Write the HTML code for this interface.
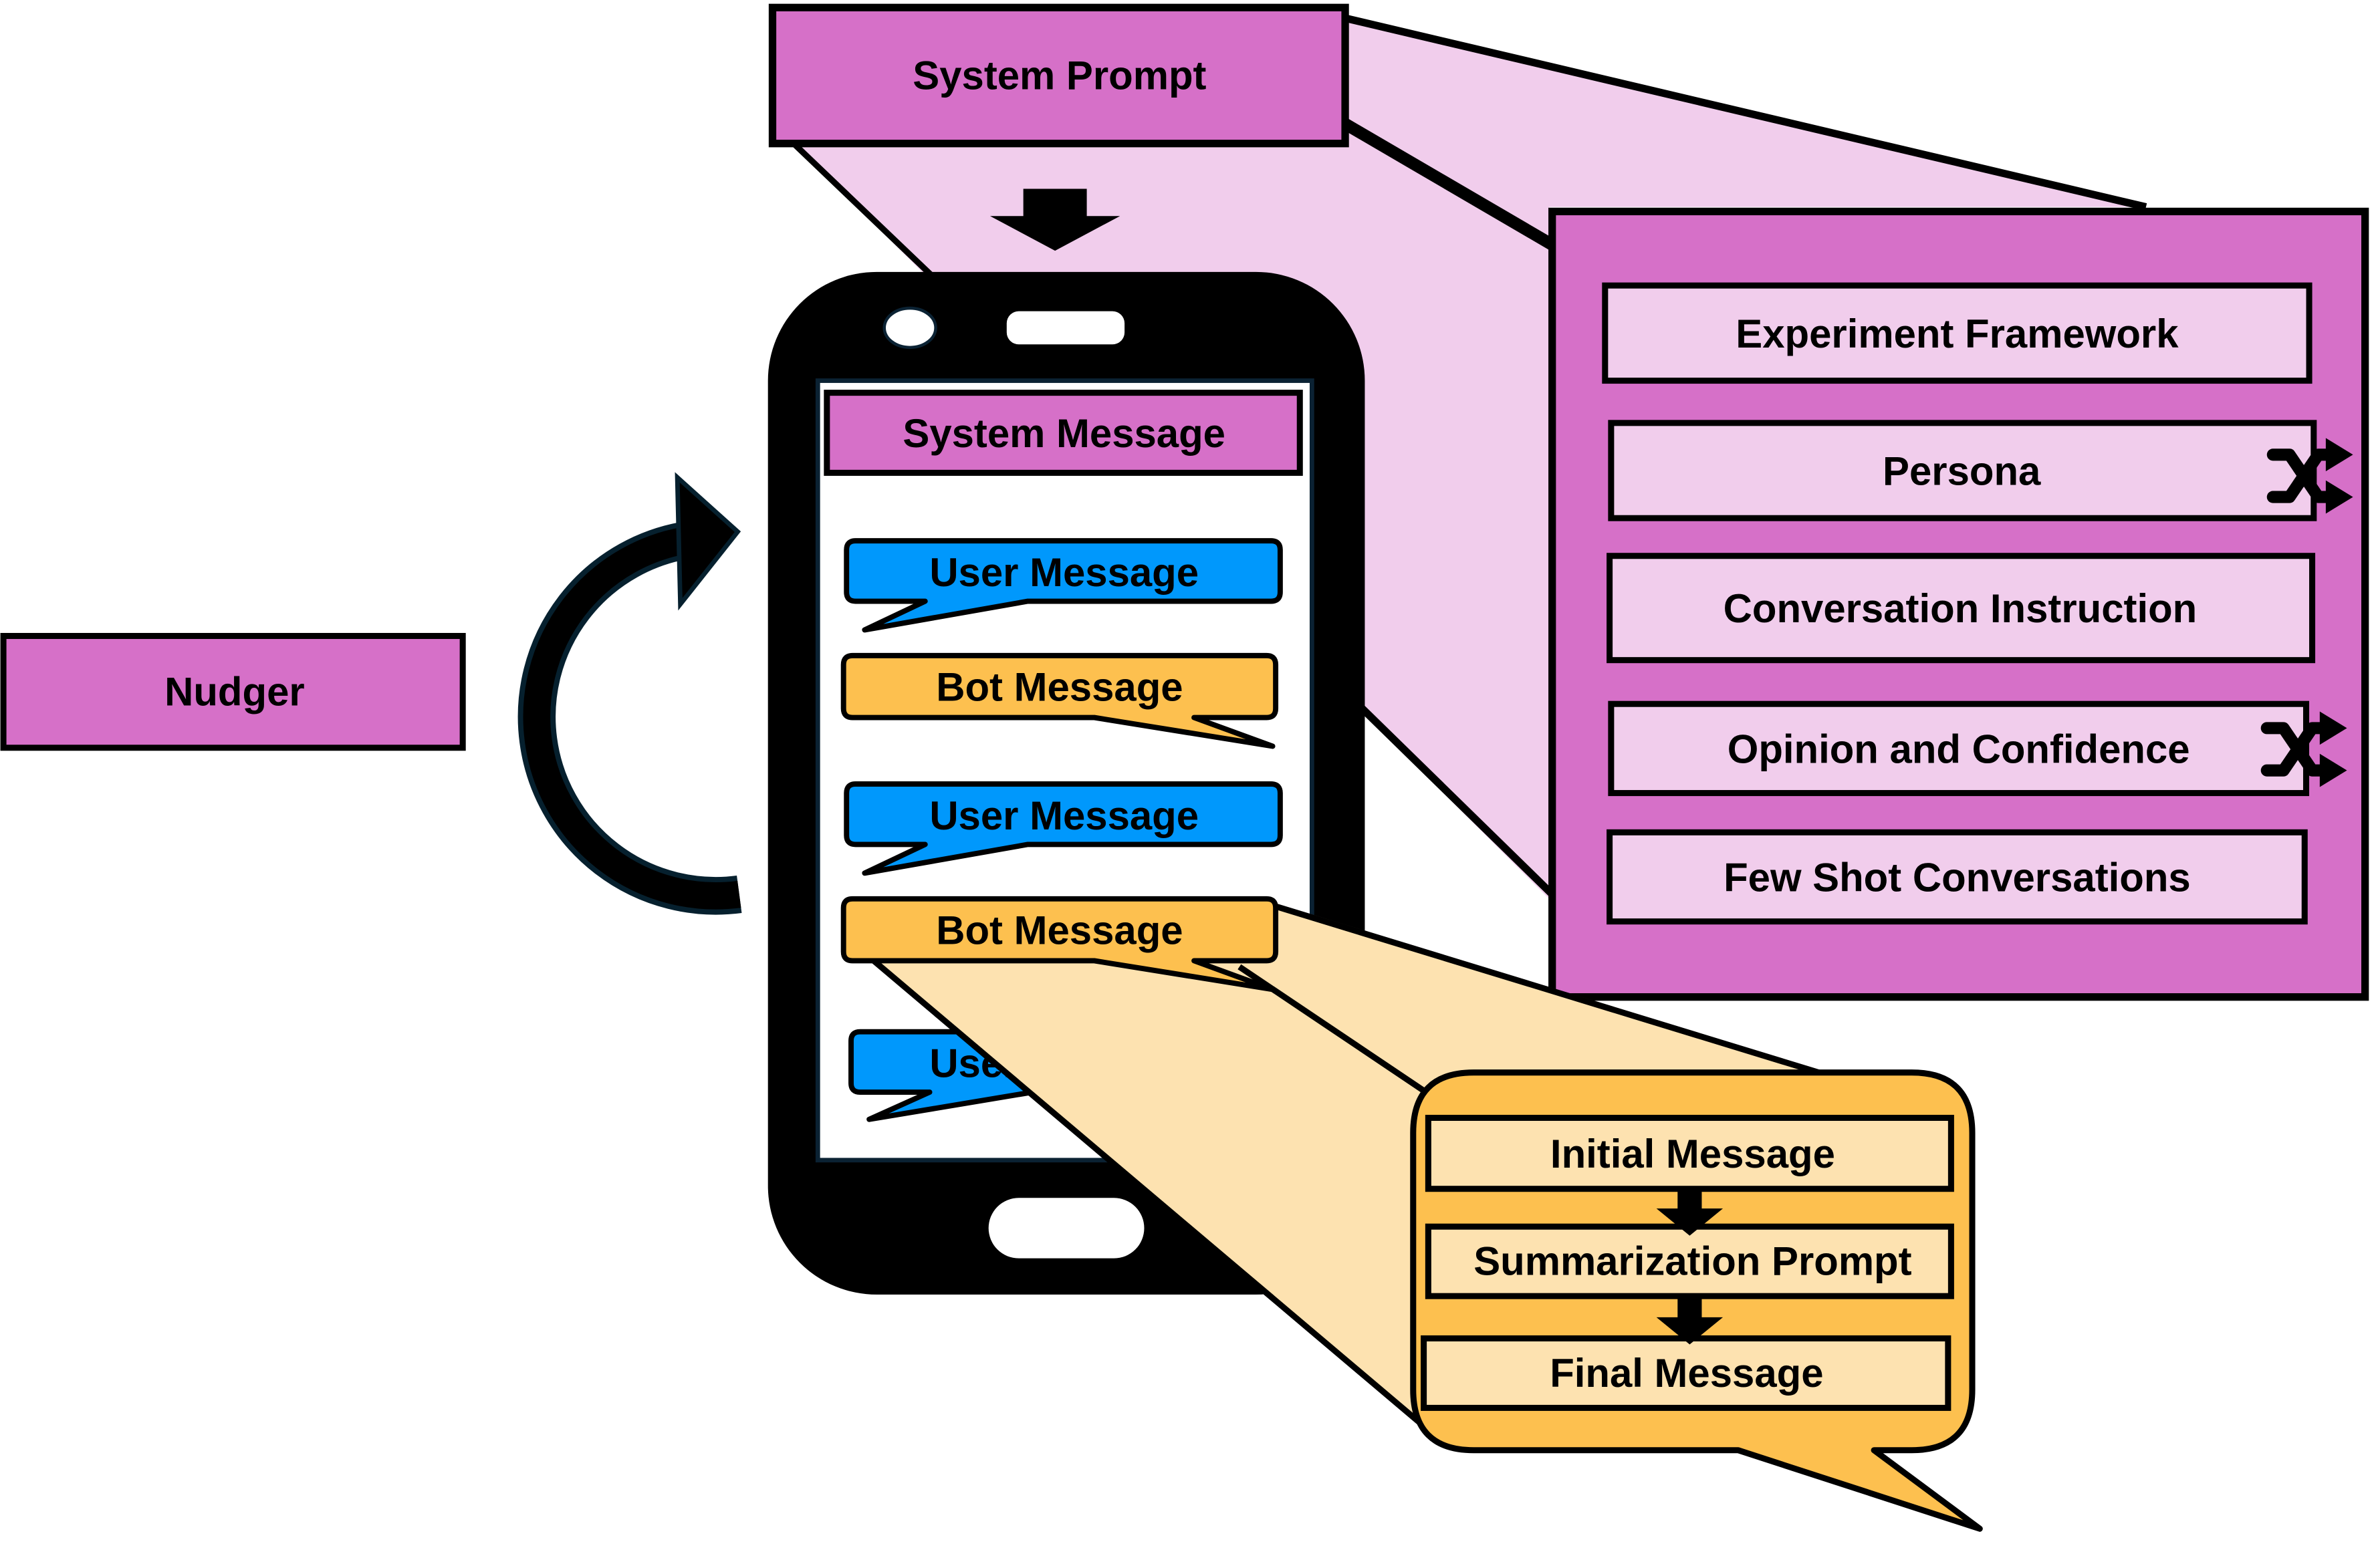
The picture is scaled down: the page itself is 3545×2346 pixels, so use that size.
<!DOCTYPE html>
<html><head><meta charset="utf-8"><style>
html,body{margin:0;padding:0;background:#fff;}
svg{display:block;}
text{font-family:"Liberation Sans",sans-serif;font-weight:bold;fill:#000;}
</style></head><body>
<svg width="3545" height="2346" viewBox="0 0 1568 1038" xmlns="http://www.w3.org/2000/svg">
<polygon points="525,95 890,88 890,10 1420,137 1025,137 1025,595" fill="#f1cdec"/>
<line x1="890" y1="12" x2="1420" y2="137" stroke="#000" stroke-width="5"/>
<line x1="890" y1="82" x2="1027" y2="162" stroke="#000" stroke-width="8"/>
<line x1="525" y1="95" x2="640" y2="205" stroke="#000" stroke-width="4"/>
<line x1="890" y1="458" x2="1027" y2="592" stroke="#000" stroke-width="5"/>

<rect x="511" y="5" width="379" height="90" fill="#d670c8" stroke="#000" stroke-width="5"/>
<text x="701" y="59" font-size="26.5" text-anchor="middle">System Prompt</text>

<polygon points="677,125 719,125 719,143 741,143 698,166 655,143 677,143" fill="#000"/>

<rect x="1027" y="140" width="538" height="520" fill="#d670c8" stroke="#000" stroke-width="5"/>
<g fill="#f1cdec" stroke="#000" stroke-width="4">
<rect x="1062" y="189" width="466" height="63"/>
<rect x="1066" y="280" width="465" height="63"/>
<rect x="1065" y="368" width="465" height="69"/>
<rect x="1066" y="466" width="460" height="59"/>
<rect x="1065" y="551" width="460" height="59"/>
</g>
<g font-size="26.5" text-anchor="middle">
<text x="1295" y="230">Experiment Framework</text>
<text x="1298" y="321">Persona</text>
<text x="1297" y="412">Conversation Instruction</text>
<text x="1296" y="505">Opinion and Confidence</text>
<text x="1295" y="590">Few Shot Conversations</text>
</g>
<g id="sh">
<path d="M1504,301 L1515,301 L1534,329 L1544,329 M1504,329 L1515,329 L1534,301 L1544,301" fill="none" stroke="#000" stroke-width="8" stroke-linecap="round" stroke-linejoin="round"/>
<polygon points="1539,290 1557,301 1539,312" fill="#000"/>
<polygon points="1539,318 1557,329 1539,340" fill="#000"/>
</g>
<use href="#sh" transform="translate(-4,181)"/>

<rect x="2" y="421" width="304" height="74" fill="#d670c8" stroke="#000" stroke-width="4"/>
<text x="155" y="467" font-size="26.5" text-anchor="middle">Nudger</text>

<path d="M489,592 A 118 118 0 0 1 458,357" fill="none" stroke="#06202e" stroke-width="25"/>
<path d="M489,592 A 118 118 0 0 1 458,357" fill="none" stroke="#000" stroke-width="18"/>
<polygon points="448,316 488,352 450,400" fill="#000" stroke="#06202e" stroke-width="3"/>

<rect x="508" y="180" width="395" height="677" rx="72" fill="#000"/>
<rect x="541" y="252" width="327" height="516" fill="#fff" stroke="#0b2233" stroke-width="3"/>
<ellipse cx="602" cy="217" rx="17" ry="13" fill="#fff" stroke="#0b2233" stroke-width="2"/>
<rect x="666" y="206" width="78" height="22" rx="8" fill="#fff"/>
<rect x="654" y="793" width="103" height="40" rx="20" fill="#fff"/>

<rect x="547" y="260" width="313" height="53" fill="#d670c8" stroke="#000" stroke-width="4"/>
<text x="704" y="296" font-size="26.5" text-anchor="middle">System Message</text>

<g fill="#0098fc" stroke="#000" stroke-width="3.5" stroke-linejoin="round">
<path d="M566,358 H841 Q847,358 847,364 V392 Q847,398 841,398 H680 L572,417 L612,398 H566 Q560,398 560,392 V364 Q560,358 566,358 Z"/>
<path d="M566,519 H841 Q847,519 847,525 V553 Q847,559 841,559 H680 L572,578 L612,559 H566 Q560,559 560,553 V525 Q560,519 566,519 Z"/>
<path d="M569,683 H841 Q847,683 847,689 V717 Q847,723 841,723 H683 L575,741 L615,723 H569 Q563,723 563,717 V689 Q563,683 569,683 Z"/>
</g>
<g font-size="26.5" text-anchor="middle">
<text x="704" y="388">User Message</text>
<text x="704" y="549">User Message</text>
<text x="704" y="713">User Message</text>
</g>
<path d="M564,434 H838 Q844,434 844,440 V469 Q844,475 838,475 H790 L842,494 L724,475 H564 Q558,475 558,469 V440 Q558,434 564,434 Z" fill="#fdc04f" stroke="#000" stroke-width="3.5" stroke-linejoin="round"/>
<text x="701" y="464" font-size="26.5" text-anchor="middle">Bot Message</text>

<polygon points="578,636 844,636 844,598 1210,710 955,955" fill="#fde2b0"/>
<line x1="578" y1="636" x2="955" y2="955" stroke="#000" stroke-width="4"/>
<line x1="844" y1="600" x2="1210" y2="712" stroke="#000" stroke-width="4"/>
<line x1="820" y1="640" x2="945" y2="724" stroke="#000" stroke-width="4"/>

<path d="M564,595 H838 Q844,595 844,601 V630 Q844,636 838,636 H790 L842,655 L724,636 H564 Q558,636 558,630 V601 Q558,595 564,595 Z" fill="#fdc04f" stroke="#000" stroke-width="3.5" stroke-linejoin="round"/>
<text x="701" y="625" font-size="26.5" text-anchor="middle">Bot Message</text>

<path d="M975,710 H1265 Q1305,710 1305,750 V920 Q1305,960 1265,960 H1240 L1310,1012 L1150,960 H975 Q935,960 935,920 V750 Q935,710 975,710 Z" fill="#fdc04f" stroke="#000" stroke-width="4" stroke-linejoin="round"/>
<g fill="#fde2b0" stroke="#000" stroke-width="4">
<rect x="945" y="740" width="346" height="47"/>
<rect x="945" y="812" width="346" height="46"/>
<rect x="942" y="886" width="347" height="46"/>
</g>
<polygon points="1110,787 1126,787 1126,800 1140,800 1118,818 1096,800 1110,800" fill="#000"/>
<polygon points="1110,858 1126,858 1126,872 1140,872 1118,890 1096,872 1110,872" fill="#000"/>
<g font-size="26.5" text-anchor="middle">
<text x="1120" y="773">Initial Message</text>
<text x="1120" y="844">Summarization Prompt</text>
<text x="1116" y="918">Final Message</text>
</g>
</svg>
</body></html>
